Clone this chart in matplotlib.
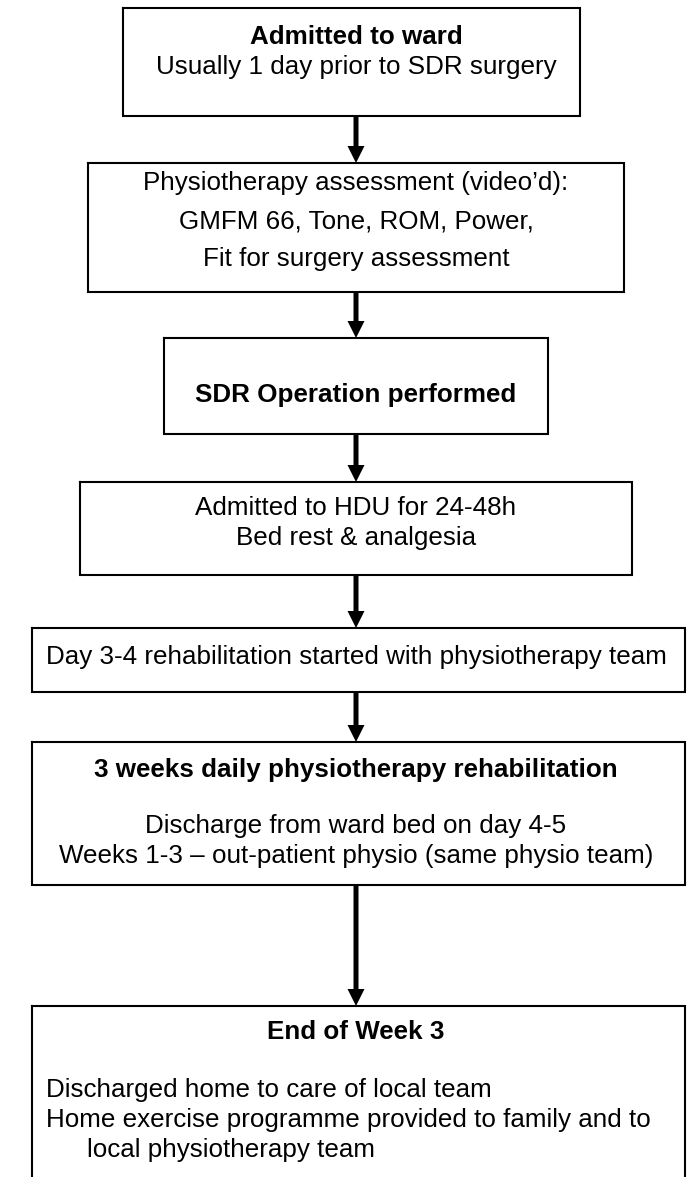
import matplotlib.pyplot as plt

# Flowchart of the SDR pathway, drawn in pixel coordinates (688 x 1177)
plt.rcParams['font.family'] = ['Liberation Sans', 'DejaVu Sans']

W, H = 688, 1177

# text of each step: (line, bold?)
step_lines = [
    [("Admitted to ward", True), ("Usually 1 day prior to SDR surgery", False)],
    [("Physiotherapy assessment (video\u2019d):", False),
     ("GMFM 66, Tone, ROM, Power,", False),
     ("Fit for surgery assessment", False)],
    [("SDR Operation performed", True)],
    [("Admitted to HDU for 24-48h", False), ("Bed rest & analgesia", False)],
    [("Day 3-4 rehabilitation started with physiotherapy team", False)],
    [("3 weeks daily physiotherapy rehabilitation", True),
     ("Discharge from ward bed on day 4-5", False),
     ("Weeks 1-3 \u2013 out-patient physio (same physio team)", False)],
    [("End of Week 3", True),
     ("Discharged home to care of local team", False),
     ("Home exercise programme provided to family and to", False),
     ("local physiotherapy team", False)],
]

# box geometry: left, right, top, bottom
box_x = [(123, 580), (88, 624), (164, 548), (80, 632), (32, 685), (32, 685), (32, 685)]
box_y = [(8, 116), (163, 292), (338, 434), (482, 575), (628, 692), (742, 885), (1006, 1200)]
# line centres (y) for each step
line_y = [
    [37, 67],
    [183, 221, 259],
    [395],
    [508, 538],
    [657],
    [770, 826, 856],
    [1032, 1090, 1120, 1150],
]
# last box text is left aligned
left_x = [None, None, None, None, None, None, [None, 46, 46, 87]]

cx = 356
fs = 18.7

fig = plt.figure(figsize=(W / 100, H / 100), dpi=100)
ax = fig.add_axes([0, 0, 1, 1])
ax.set_xlim(0, W)
ax.set_ylim(H, 0)
ax.axis('off')

for i, lines in enumerate(step_lines):
    x0, x1 = box_x[i]
    y0, y1 = box_y[i]
    ax.plot([x0, x1, x1, x0, x0], [y0, y0, y1, y1, y0], color='black', lw=1.5,
            solid_joinstyle='miter')
    for j, (txt, bold) in enumerate(lines):
        lx = left_x[i][j] if left_x[i] else None
        if lx is None:
            ax.text(cx, line_y[i][j], txt, ha='center', va='center', fontsize=fs,
                    fontweight='bold' if bold else 'normal')
        else:
            ax.text(lx, line_y[i][j], txt, ha='left', va='center', fontsize=fs,
                    fontweight='bold' if bold else 'normal')

# arrows between boxes
for i in range(len(box_y) - 1):
    start = box_y[i][1]
    end = box_y[i + 1][0]
    ax.arrow(cx, start, 0, end - start, width=5, head_width=17, head_length=17,
             length_includes_head=True, color='black', lw=0)

fig.savefig('out.png', dpi=100, facecolor='white')
